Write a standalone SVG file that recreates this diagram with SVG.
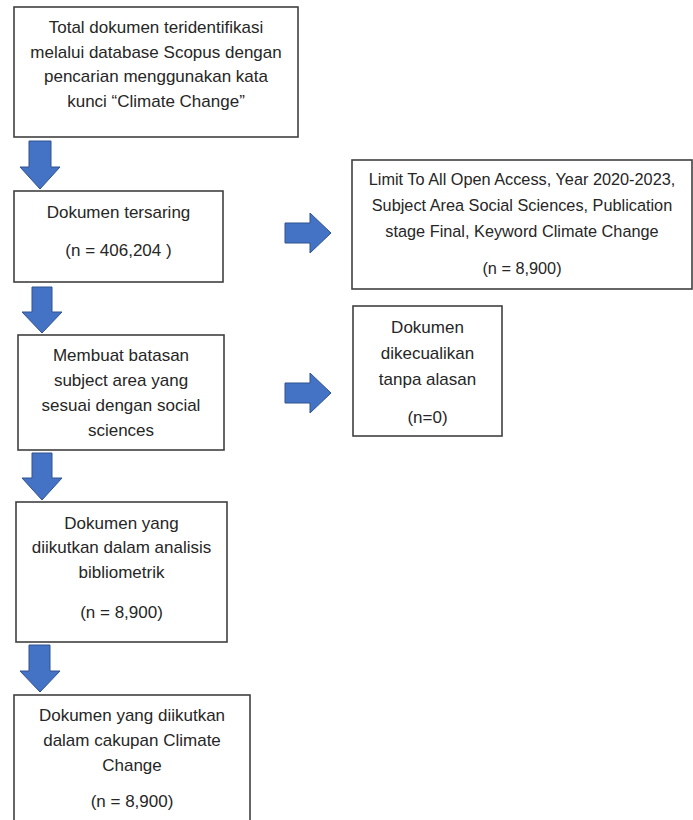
<svg xmlns="http://www.w3.org/2000/svg" width="693" height="820" viewBox="0 0 693 820">
<style>
.box{fill:#ffffff;stroke:#404040;stroke-width:1.6}
.arr{fill:#4472C4;stroke:#2F528F;stroke-width:1}
text{font-family:"Liberation Sans",Arial,sans-serif;font-size:17px;fill:#262626;text-anchor:middle}
.sm{font-size:16.3px}
</style>
<rect width="693" height="820" fill="#ffffff"/>
<g id="connectors">
<path class="arr" d="M29,141 H51 V167 H60 L40,189 L20,167 H29 Z"/>
<path class="arr" d="M32,287 H52 V312 H62 L42,333 L22,312 H32 Z"/>
<path class="arr" d="M32,453 H52 V478 H62 L42,500 L22,478 H32 Z"/>
<path class="arr" d="M29,645 H50 V671 H60 L40,692 L20,671 H29 Z"/>
<path class="arr" d="M285,223 H310 V213 L331,233 L310,253 V243 H285 Z"/>
<path class="arr" d="M285,383 H310 V373 L331,393 L310,413 V403 H285 Z"/>
</g>
<g id="node1">
<rect class="box" x="14" y="7" width="284" height="130"/>
<text x="156" y="33">Total dokumen teridentifikasi</text>
<text x="156" y="58">melalui database Scopus dengan</text>
<text x="156" y="82">pencarian menggunakan kata</text>
<text x="156" y="107">kunci “Climate Change”</text>
</g>
<g id="node2">
<rect class="box" x="14" y="191" width="209" height="91"/>
<text x="118.5" y="218">Dokumen tersaring</text>
<text x="118.5" y="256">(n = 406,204 )</text>
</g>
<g id="node3">
<rect class="box" x="352" y="160" width="340" height="129"/>
<text class="sm" x="522" y="185">Limit To All Open Access, Year 2020-2023,</text>
<text class="sm" x="522" y="211">Subject Area Social Sciences, Publication</text>
<text class="sm" x="522" y="237">stage Final, Keyword Climate Change</text>
<text class="sm" x="522" y="274">(n = 8,900)</text>
</g>
<g id="node4">
<rect class="box" x="18" y="335" width="206" height="115"/>
<text x="121" y="361">Membuat batasan</text>
<text x="121" y="386">subject area yang</text>
<text x="121" y="411">sesuai dengan social</text>
<text x="121" y="436">sciences</text>
</g>
<g id="node5">
<rect class="box" x="353" y="306" width="149" height="130"/>
<text x="427.5" y="333">Dokumen</text>
<text x="427.5" y="359">dikecualikan</text>
<text x="427.5" y="385">tanpa alasan</text>
<text x="427.5" y="423">(n=0)</text>
</g>
<g id="node6">
<rect class="box" x="16" y="502" width="211" height="140"/>
<text x="121.5" y="529">Dokumen yang</text>
<text x="121.5" y="553">diikutkan dalam analisis</text>
<text x="121.5" y="578">bibliometrik</text>
<text x="121.5" y="618">(n = 8,900)</text>
</g>
<g id="node7">
<rect class="box" x="14" y="695" width="236" height="130"/>
<text x="132" y="721">Dokumen yang diikutkan</text>
<text x="132" y="746">dalam cakupan Climate</text>
<text x="132" y="771">Change</text>
<text x="132" y="807">(n = 8,900)</text>
</g>
</svg>
